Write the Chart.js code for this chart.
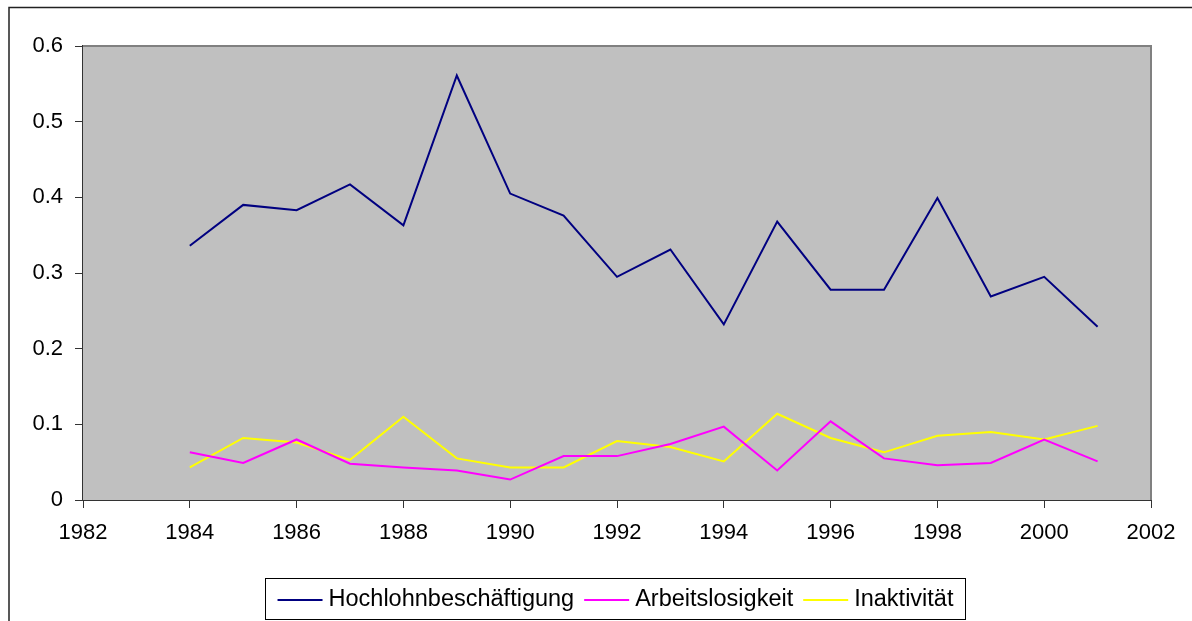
<!DOCTYPE html>
<html>
<head>
<meta charset="utf-8">
<script src="https://cdn.jsdelivr.net/npm/chart.js@4/dist/chart.umd.min.js"></script>
<style>
  html, body { margin: 0; padding: 0; background: #fff; }
  #wrap { position: relative; width: 1192px; height: 621px; }
</style>
</head>
<body>
<div id="wrap"><canvas id="lineChart" width="1192" height="621"></canvas></div>
<script>
const years = [1984, 1985, 1986, 1987, 1988, 1989, 1990, 1991, 1992, 1993, 1994, 1995, 1996, 1997, 1998, 1999, 2000, 2001];
const hochlohn = [0.336, 0.390, 0.383, 0.417, 0.363, 0.561, 0.405, 0.376, 0.295, 0.331, 0.232, 0.368, 0.278, 0.278, 0.399, 0.269, 0.295, 0.229];
const arbeitslos = [0.063, 0.049, 0.080, 0.048, 0.043, 0.039, 0.027, 0.058, 0.058, 0.074, 0.097, 0.039, 0.104, 0.055, 0.046, 0.049, 0.080, 0.051];
const inaktiv = [0.043, 0.082, 0.076, 0.053, 0.110, 0.055, 0.043, 0.043, 0.078, 0.070, 0.051, 0.114, 0.082, 0.063, 0.085, 0.090, 0.080, 0.098];
const seriesNames = ["Hochlohnbeschäftigung", "Arbeitslosigkeit", "Inaktivität"];
const seriesColors = ["#000080", "#FF00FF", "#FFFF00"];

const FONT = "Liberation Sans, Arial, sans-serif";

function toPoints(values) {
  return values.map((v, i) => ({ x: years[i], y: v }));
}

// grey plot area, frame, top/right border and boxed legend
const frameAndLegend = {
  id: "frameAndLegend",
  beforeDatasetsDraw(chart) {
    const { ctx, chartArea: a } = chart;
    ctx.save();
    ctx.fillStyle = "#C0C0C0";
    ctx.fillRect(a.left, a.top, a.right - a.left, a.bottom - a.top);
    ctx.strokeStyle = "#808080";
    ctx.lineWidth = 2;
    ctx.beginPath();
    ctx.moveTo(a.left, a.top);
    ctx.lineTo(a.right, a.top);
    ctx.lineTo(a.right, a.bottom);
    ctx.stroke();
    ctx.restore();
  },
  afterDraw(chart) {
    const ctx = chart.ctx;
    ctx.save();
    // outer frame
    ctx.strokeStyle = "#222";
    ctx.lineWidth = 1.5;
    ctx.beginPath();
    ctx.moveTo(9, 640);
    ctx.lineTo(9, 7.5);
    ctx.lineTo(1192, 7.5);
    ctx.stroke();

    // legend
    const boxX = 265.5, boxY = 578.5, boxW = 700, boxH = 41;
    ctx.fillStyle = "#fff";
    ctx.fillRect(boxX, boxY, boxW, boxH);
    ctx.strokeStyle = "#000";
    ctx.lineWidth = 1;
    ctx.strokeRect(boxX, boxY, boxW, boxH);

    ctx.font = "23.5px " + FONT;
    ctx.textBaseline = "middle";
    const lineW = 45, gap1 = 6, gap2 = 10;
    const widths = seriesNames.map(n => ctx.measureText(n).width);
    let total = 0;
    widths.forEach((w, i) => { total += lineW + gap1 + w + (i < widths.length - 1 ? gap2 : 0); });
    let x = boxX + (boxW - total) / 2;
    const cy = boxY + boxH / 2 + 1;
    seriesNames.forEach((n, i) => {
      ctx.strokeStyle = seriesColors[i];
      ctx.lineWidth = 2;
      ctx.beginPath();
      ctx.moveTo(x, cy);
      ctx.lineTo(x + lineW, cy);
      ctx.stroke();
      ctx.fillStyle = "#000";
      ctx.fillText(n, x + lineW + gap1, cy);
      x += lineW + gap1 + widths[i] + gap2;
    });
    ctx.restore();
  }
};

const datasets = seriesNames.map((name, i) => ({
  label: name,
  data: toPoints([hochlohn, arbeitslos, inaktiv][i]),
  borderColor: seriesColors[i],
  backgroundColor: seriesColors[i],
  borderWidth: 2,
  pointRadius: 0,
  tension: 0,
  fill: false
}));

new Chart(document.getElementById("lineChart").getContext("2d"), {
  type: "line",
  data: { datasets: datasets },
  options: {
    responsive: false,
    animation: false,
    layout: { padding: { left: 10, right: 41, top: 46, bottom: 71 } },
    plugins: {
      legend: { display: false },
      tooltip: { enabled: false }
    },
    scales: {
      x: {
        type: "linear",
        min: 1982,
        max: 2002,
        afterFit: (s) => { s.height = 50; },
        ticks: {
          stepSize: 2,
          color: "#000",
          font: { family: FONT, size: 22 },
          padding: 12,
          maxRotation: 0,
          callback: (v) => String(v)
        },
        grid: { drawOnChartArea: false, drawTicks: true, tickLength: 8, color: "#333" },
        border: { color: "#333", width: 2 }
      },
      y: {
        min: 0,
        max: 0.6,
        afterFit: (s) => { s.width = 73; },
        ticks: {
          stepSize: 0.1,
          color: "#000",
          font: { family: FONT, size: 22 },
          padding: 12,
          callback: (v) => (v === 0 ? "0" : Number(v).toFixed(1))
        },
        grid: { drawOnChartArea: false, drawTicks: true, tickLength: 8, color: "#333" },
        border: { color: "#333", width: 2 }
      }
    }
  },
  plugins: [frameAndLegend]
});
</script>
</body>
</html>
